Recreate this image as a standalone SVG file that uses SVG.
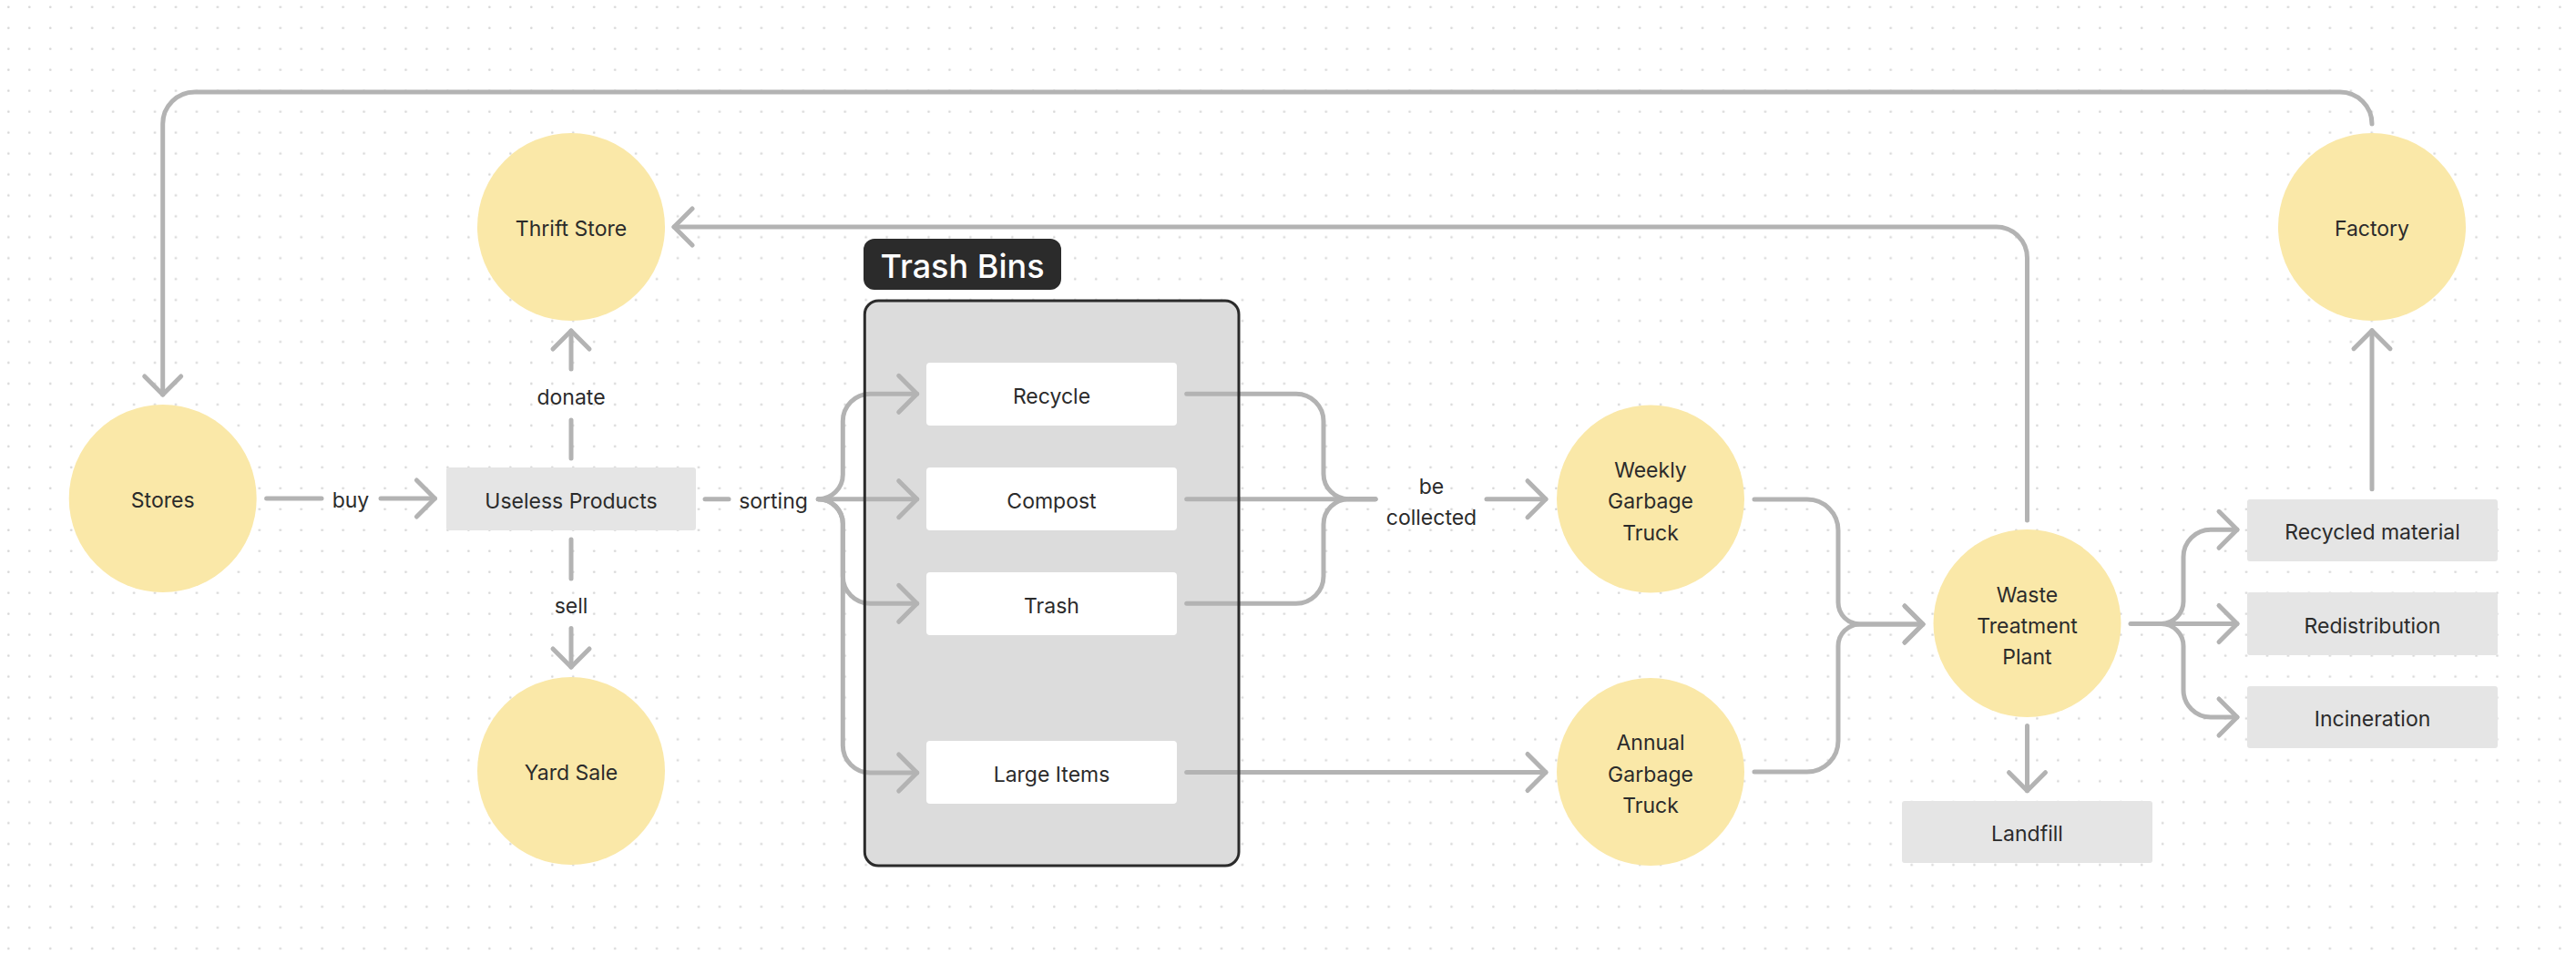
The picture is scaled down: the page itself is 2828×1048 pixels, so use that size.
<svg xmlns="http://www.w3.org/2000/svg" width="2828" height="1048" viewBox="0 0 2828 1048">
<style>
.bg{fill:#ffffff}
.circle{fill:#fae8a8}
.box{fill:#e5e5e5}
.bin{fill:#ffffff}
.t{font-family:Inter,"Noto Sans","Liberation Sans",sans-serif;font-size:23px;fill:#2b2b2b;text-anchor:middle;dominant-baseline:central}
.conn{fill:none;stroke:#b3b3b3;stroke-width:5;stroke-linecap:round;stroke-linejoin:round}
.arr{marker-end:url(#chev)}
</style>
<defs>
<pattern id="dots" patternUnits="userSpaceOnUse" x="0" y="0" width="22.96" height="22.96">
<circle cx="9.3" cy="7.7" r="1.3" fill="#d6d6d6"/>
</pattern>
<marker id="chev" markerUnits="userSpaceOnUse" viewBox="-26 -26 52 52" refX="0" refY="0" markerWidth="52" markerHeight="52" orient="auto">
<path d="M -20 -20 L 0 0 L -20 20" fill="none" stroke="#b3b3b3" stroke-width="5" stroke-linecap="round" stroke-linejoin="round"/>
</marker>
</defs>
<rect class="bg" x="0" y="0" width="2828" height="1048"/>
<rect x="0" y="0" width="2828" height="1048" fill="url(#dots)"/>

<g id="trash-bins">
<rect x="949.3" y="330" width="410.7" height="620" rx="15" fill="#dcdcdc"/>
<rect x="948" y="262" width="217" height="56" rx="12" fill="#2b2b2b"/>
<text x="1056.5" y="291.5" font-family="Inter,'Noto Sans','Liberation Sans',sans-serif" font-size="36" font-weight="500" fill="#ffffff" text-anchor="middle" dominant-baseline="central">Trash Bins</text>
</g>

<g id="stores"><circle class="circle" cx="178.7" cy="547" r="103"/><text class="t" x="178.7" y="549">Stores</text></g>
<g id="thrift-store"><circle class="circle" cx="627" cy="249" r="103"/><text class="t" x="627" y="251">Thrift Store</text></g>
<g id="yard-sale"><circle class="circle" cx="627" cy="846" r="103"/><text class="t" x="627" y="848">Yard Sale</text></g>
<g id="useless-products"><rect class="box" x="490" y="513" width="274" height="69" rx="3"/><text class="t" x="627" y="549.5">Useless Products</text></g>

<g id="recycle"><rect class="bin" x="1017" y="398" width="275" height="69" rx="4"/><text class="t" x="1154.5" y="434.5">Recycle</text></g>
<g id="compost"><rect class="bin" x="1017" y="513" width="275" height="69" rx="4"/><text class="t" x="1154.5" y="549.5">Compost</text></g>
<g id="trash"><rect class="bin" x="1017" y="628" width="275" height="69" rx="4"/><text class="t" x="1154.5" y="664.5">Trash</text></g>
<g id="large-items"><rect class="bin" x="1017" y="813" width="275" height="69" rx="4"/><text class="t" x="1154.5" y="849.5">Large Items</text></g>

<g id="weekly-truck"><circle class="circle" cx="1812" cy="547.5" r="103"/><text class="t" x="1812" y="515.5">Weekly</text><text class="t" x="1812" y="550">Garbage</text><text class="t" x="1812" y="584.5">Truck</text></g>
<g id="annual-truck"><circle class="circle" cx="1812" cy="847" r="103"/><text class="t" x="1812" y="815">Annual</text><text class="t" x="1812" y="849.5">Garbage</text><text class="t" x="1812" y="884">Truck</text></g>
<g id="waste-plant"><circle class="circle" cx="2225.5" cy="684" r="103"/><text class="t" x="2225.5" y="652.5">Waste</text><text class="t" x="2225.5" y="686.5">Treatment</text><text class="t" x="2225.5" y="720.5">Plant</text></g>
<g id="factory"><circle class="circle" cx="2604" cy="249" r="103"/><text class="t" x="2604" y="251">Factory</text></g>
<g id="landfill"><rect class="box" x="2088" y="879" width="275" height="68" rx="3"/><text class="t" x="2225.5" y="915">Landfill</text></g>
<g id="recycled-material"><rect class="box" x="2467" y="548" width="275" height="68" rx="3"/><text class="t" x="2604.5" y="584">Recycled material</text></g>
<g id="redistribution"><rect class="box" x="2467" y="650" width="275" height="69" rx="3"/><text class="t" x="2604.5" y="686.5">Redistribution</text></g>
<g id="incineration"><rect class="box" x="2467" y="753" width="275" height="68" rx="3"/><text class="t" x="2604.5" y="789">Incineration</text></g>

<g id="connectors">
<path class="conn" d="M 292.6 547 L 353 547"/>
<path class="conn arr" d="M 418 547 L 477.4 547"/>
<text class="t" x="385" y="549">buy</text>
<path class="conn" d="M 627 503 L 627 461"/>
<path class="conn arr" d="M 627 405 L 627 363"/>
<text class="t" x="627" y="436">donate</text>
<path class="conn" d="M 627 592 L 627 635"/>
<path class="conn arr" d="M 627 689.5 L 627 732"/>
<text class="t" x="627" y="665">sell</text>
<path class="conn" d="M 774 547.7 L 800 547.7"/>
<text class="t" x="849" y="549.7">sorting</text>
<path class="conn arr" d="M 898.3 547.7 A 27 27 0 0 0 925.3 520.7 L 925.3 462.3 A 30 30 0 0 1 955.3 432.3 L 1006.7 432.3"/>
<path class="conn arr" d="M 898.3 547.7 L 1006.7 547.7"/>
<path class="conn arr" d="M 898.3 547.7 A 27 27 0 0 1 925.3 574.7 L 925.3 632.3 A 30 30 0 0 0 955.3 662.3 L 1006.7 662.3"/>
<path class="conn arr" d="M 898.3 547.7 A 27 27 0 0 1 925.3 574.7 L 925.3 818 A 30 30 0 0 0 955.3 848 L 1006.7 848"/>
<path class="conn" d="M 1302.7 432.3 L 1423 432.3 A 30 30 0 0 1 1453 462.3 L 1453 520 A 27.7 27.7 0 0 0 1480.7 547.7 L 1510 547.7"/>
<path class="conn" d="M 1302.7 547.7 L 1510 547.7"/>
<path class="conn" d="M 1302.7 662.3 L 1423 662.3 A 30 30 0 0 0 1453 632.3 L 1453 575.4 A 27.7 27.7 0 0 1 1480.7 547.7 L 1510 547.7"/>
<text class="t" x="1571.5" y="534">be</text>
<text class="t" x="1571.5" y="568">collected</text>
<path class="conn arr" d="M 1632 547.7 L 1697 547.7"/>
<path class="conn arr" d="M 1302.7 847.5 L 1697 847.5"/>
<path class="conn arr" d="M 1926 548 L 1984 548 A 34 34 0 0 1 2018 582 L 2018 661 A 24 24 0 0 0 2042 685 L 2111 685"/>
<path class="conn arr" d="M 1926 847 L 1984 847 A 34 34 0 0 0 2018 813 L 2018 709 A 24 24 0 0 1 2042 685 L 2111 685"/>
<path class="conn arr" d="M 2339 684.5 L 2456 684.5"/>
<path class="conn arr" d="M 2372.6 684.5 A 24.4 24.4 0 0 0 2397 660.1 L 2397 611.3 A 30 30 0 0 1 2427 581.3 L 2456 581.3"/>
<path class="conn arr" d="M 2372.6 684.5 A 24.4 24.4 0 0 1 2397 708.9 L 2397 757 A 30 30 0 0 0 2427 787 L 2456 787"/>
<path class="conn arr" d="M 2225.5 796.6 L 2225.5 867.7"/>
<path class="conn arr" d="M 2225.5 571 L 2225.5 283 A 34 34 0 0 0 2191.5 249 L 740 249"/>
<path class="conn arr" d="M 2604 536.7 L 2604 362.7"/>
<path class="conn arr" d="M 2604 136 A 35 35 0 0 0 2569 101 L 213.7 101 A 35 35 0 0 0 178.7 136 L 178.7 433"/>
</g>

<g id="trash-bins-frame">
<rect x="949.3" y="330" width="410.7" height="620" rx="15" fill="none" stroke="#2b2b2b" stroke-width="3"/>
</g>
</svg>
